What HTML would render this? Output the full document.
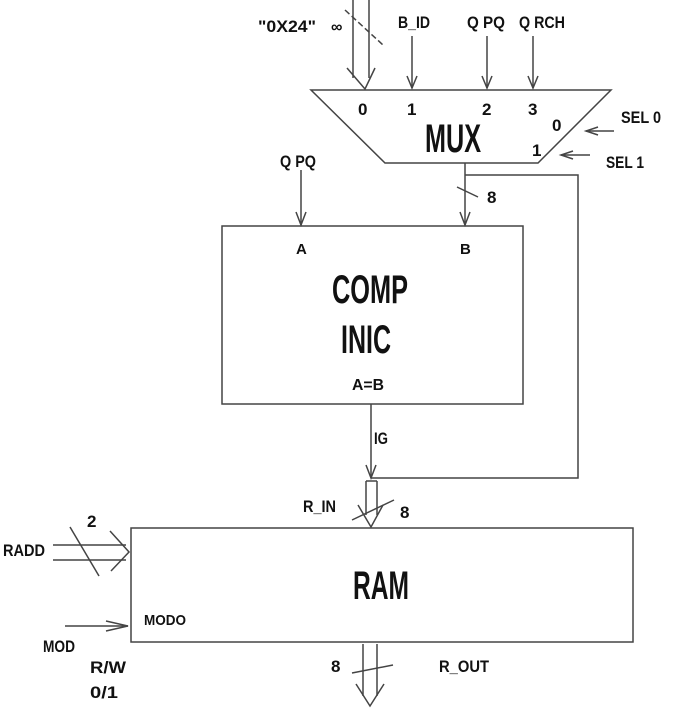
<!DOCTYPE html>
<html><head><meta charset="utf-8"><style>
html,body{margin:0;padding:0;background:#fff;}
svg{display:block;}
text{font-family:"Liberation Sans Narrow","Liberation Sans",sans-serif;font-weight:bold;fill:#111;}
</style></head><body>
<svg width="684" height="708" viewBox="0 0 684 708" xmlns="http://www.w3.org/2000/svg">
<g stroke="#444" stroke-width="1.5" fill="none">
<!-- MUX -->
<polygon points="311,90 611,90 538,163 385,163"/>
<!-- top double line for 0X24 -->
<line x1="353" y1="0" x2="353" y2="78"/>
<line x1="369" y1="0" x2="369" y2="78"/>
<path d="M347,68 L365,89 L375,68"/>
<line x1="345" y1="10" x2="383" y2="45" stroke-dasharray="6,3"/>
<!-- input arrows -->
<line x1="412" y1="36" x2="412" y2="88"/><path d="M407,76 L412,88 L417,76"/>
<line x1="487" y1="36" x2="487" y2="88"/><path d="M482,76 L487,88 L492,76"/>
<line x1="533" y1="36" x2="533" y2="88"/><path d="M528,76 L533,88 L538,76"/>
<!-- SEL arrows -->
<line x1="614" y1="131" x2="586" y2="131"/><path d="M598,127 L586,131 L598,135"/>
<line x1="590" y1="155" x2="561" y2="155"/><path d="M573,151 L561,155 L573,159"/>
<!-- QPQ -> A -->
<line x1="301" y1="170" x2="301" y2="225"/><path d="M296,212 L301,225 L306,212"/>
<!-- mux out -> B -->
<line x1="465" y1="163" x2="465" y2="225"/><path d="M460,212 L465,225 L470,212"/>
<line x1="457" y1="187" x2="478" y2="197"/>
<!-- feedback -->
<polyline points="465,175 578,175 578,478 371,478"/>
<!-- COMP box -->
<rect x="222" y="226" width="301" height="178"/>
<!-- IG -->
<line x1="371" y1="404" x2="371" y2="478"/><path d="M366,465 L371,478 L376,465"/>
<!-- R_IN -->
<line x1="366" y1="481" x2="366" y2="515"/>
<line x1="377" y1="481" x2="377" y2="515"/>
<line x1="366" y1="481" x2="377" y2="481"/>
<path d="M358,505 L371,527 L383,505"/>
<line x1="352" y1="520" x2="394" y2="500"/>
<!-- RAM -->
<rect x="131" y="528" width="502" height="114"/>
<!-- RADD -->
<line x1="53" y1="545" x2="126" y2="545"/>
<line x1="53" y1="560" x2="126" y2="560"/>
<path d="M110,531 L129,552 L111,571"/>
<line x1="70" y1="527" x2="99" y2="576"/>
<!-- MOD -->
<line x1="65" y1="626" x2="128" y2="626"/><path d="M106,621 L128,626 L106,631"/>
<!-- R_OUT -->
<line x1="363" y1="644" x2="363" y2="696"/>
<line x1="377" y1="644" x2="377" y2="696"/>
<path d="M356,684 L370,706 L384,684"/>
<line x1="352" y1="673" x2="393" y2="665"/>
</g>
<!-- labels -->
<text x="258" y="32" font-size="17" textLength="58" lengthAdjust="spacingAndGlyphs">"0X24"</text>
<text x="331" y="32" font-size="16">∞</text>
<text x="398" y="28" font-size="17" textLength="32" lengthAdjust="spacingAndGlyphs">B_ID</text>
<text x="467" y="28" font-size="17" textLength="38" lengthAdjust="spacingAndGlyphs">Q PQ</text>
<text x="519" y="28" font-size="17" textLength="46" lengthAdjust="spacingAndGlyphs">Q RCH</text>
<text x="358" y="115" font-size="17">0</text>
<text x="407" y="115" font-size="17">1</text>
<text x="482" y="115" font-size="17">2</text>
<text x="528" y="115" font-size="17">3</text>
<text x="425" y="152" font-size="40" textLength="56" lengthAdjust="spacingAndGlyphs">MUX</text>
<text x="552" y="131" font-size="17">0</text>
<text x="532" y="156" font-size="17">1</text>
<text x="621" y="123" font-size="17" textLength="40" lengthAdjust="spacingAndGlyphs">SEL 0</text>
<text x="606" y="168" font-size="17" textLength="38" lengthAdjust="spacingAndGlyphs">SEL 1</text>
<text x="280" y="167" font-size="17" textLength="36" lengthAdjust="spacingAndGlyphs">Q PQ</text>
<text x="487" y="203" font-size="17">8</text>
<text x="296" y="254" font-size="15">A</text>
<text x="460" y="254" font-size="15">B</text>
<text x="332" y="303" font-size="40" textLength="76" lengthAdjust="spacingAndGlyphs">COMP</text>
<text x="341" y="353" font-size="40" textLength="50" lengthAdjust="spacingAndGlyphs">INIC</text>
<text x="352" y="390" font-size="16" textLength="32" lengthAdjust="spacingAndGlyphs">A=B</text>
<text x="374" y="444" font-size="17" textLength="14" lengthAdjust="spacingAndGlyphs">IG</text>
<text x="303" y="512" font-size="17" textLength="33" lengthAdjust="spacingAndGlyphs">R_IN</text>
<text x="400" y="518" font-size="17">8</text>
<text x="87" y="527" font-size="17">2</text>
<text x="3" y="556" font-size="17" textLength="42" lengthAdjust="spacingAndGlyphs">RADD</text>
<text x="353" y="599" font-size="40" textLength="56" lengthAdjust="spacingAndGlyphs">RAM</text>
<text x="144" y="625" font-size="15" textLength="42" lengthAdjust="spacingAndGlyphs">MODO</text>
<text x="43" y="652" font-size="17" textLength="32" lengthAdjust="spacingAndGlyphs">MOD</text>
<text x="90" y="673" font-size="17" textLength="36" lengthAdjust="spacingAndGlyphs">R/W</text>
<text x="90" y="698" font-size="17" textLength="28" lengthAdjust="spacingAndGlyphs">0/1</text>
<text x="331" y="672" font-size="17">8</text>
<text x="439" y="672" font-size="17" textLength="50" lengthAdjust="spacingAndGlyphs">R_OUT</text>
</svg>
</body></html>
